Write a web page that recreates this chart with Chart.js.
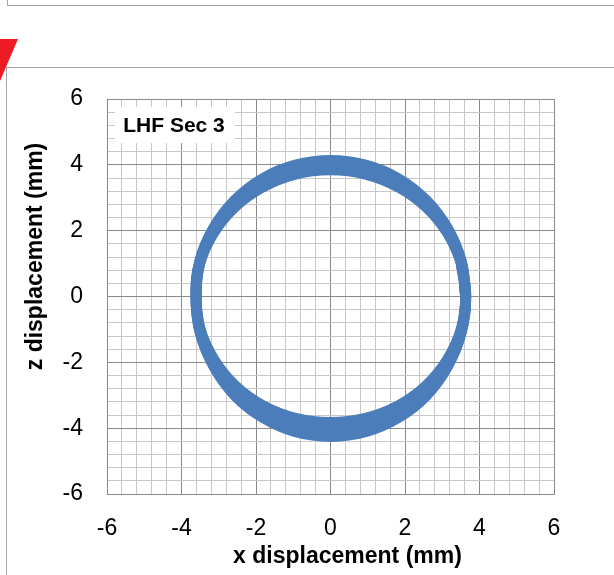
<!DOCTYPE html>
<html><head><meta charset="utf-8">
<script src="https://cdn.jsdelivr.net/npm/chart.js@4"></script>
<style>
html,body{margin:0;padding:0;background:#fff;width:614px;height:575px;overflow:hidden;}
#c{position:absolute;left:0;top:0;}
.ln{position:absolute;background:#a6a6a6;z-index:2;}
#tri{position:absolute;left:0;top:39px;width:0;height:0;border-top:42px solid #ed1c24;border-right:18px solid transparent;z-index:3;}
</style></head>
<body>
<canvas id="c" width="614" height="575"></canvas>
<div class="ln" style="left:7px;top:0;width:1px;height:6px"></div>
<div class="ln" style="left:7px;top:5px;width:607px;height:1px"></div>
<div class="ln" style="left:6px;top:67px;width:608px;height:1px"></div>
<div class="ln" style="left:6px;top:67px;width:1px;height:508px"></div>
<div id="tri"></div>
<script>
// ---- data ----
const seriesLabel = 'LHF Sec 3';
const xTitle = 'x displacement (mm)';
const zTitle = 'z displacement (mm)';
const tickLabels = ['-6','-4','-2','0','2','4','6'];
const axisMin = -6, axisMax = 6, minorStep = 0.4;

// displacement orbit traces (mm): inner, middle and outer passes
const loopX = [3.63, 3.51, 3.14, 2.57, 1.82, 0.94, 0, -0.94, -1.82, -2.57, -3.14, -3.51, -3.61, -3.50, -3.13, -2.56, -1.81, -0.94, 0, 0.94, 1.82, 2.57, 3.14, 3.51, 3.63, 3.51];
const innerZ = [0, 1.00, 1.93, 2.72, 3.33, 3.72, 3.85, 3.72, 3.33, 2.72, 1.93, 1.00, 0, -0.99, -1.92, -2.71, -3.32, -3.70, -3.83, -3.70, -3.32, -2.71, -1.92, -0.99, 0, 1.00];
const middleZ = [0, 1.04, 2.00, 2.82, 3.46, 3.86, 3.99, 3.86, 3.46, 2.82, 2.00, 1.04, 0, -1.05, -2.03, -2.86, -3.50, -3.91, -4.04, -3.91, -3.50, -2.86, -2.03, -1.05, 0, 1.04];
const outerZ = [0, 1.07, 2.07, 2.92, 3.58, 3.99, 4.13, 3.99, 3.58, 2.92, 2.07, 1.07, 0, -1.10, -2.13, -3.01, -3.68, -4.11, -4.25, -4.11, -3.68, -3.01, -2.13, -1.10, 0, 1.07];

const BLUE = '#4a7dba';
const MAJOR = '#8a8a8a', MINOR = '#c8c8c8';
const FONT = "'Liberation Sans', Arial, sans-serif";

function isMajor(v){ return Math.abs(Math.round(v*10)) % 20 === 0; }
function labelFor(v){ const s = String(Math.round(v*10)/10); return tickLabels.includes(s) && isMajor(v) ? s : ''; }

const toPts = (xs, zs) => xs.map((x,i)=>({x:x, y:zs[i]}));

const decor = {
  id:'decor',
  afterDraw(chart){
    const {ctx, chartArea:a} = chart;
    ctx.save();
    ctx.fillStyle = '#fff';
    ctx.fillRect(a.left+8, a.top+8, 120, 36);
    ctx.fillStyle = '#000';
    ctx.font = 'bold 21px ' + FONT;
    ctx.textAlign = 'center'; ctx.textBaseline = 'middle';
    ctx.fillText(seriesLabel, a.left+67, a.top+27);
    ctx.font = 'bold 23px ' + FONT;
    ctx.textBaseline = 'alphabetic';
    ctx.fillText(xTitle, (a.left+a.right)/2 + 17, 563);
    ctx.translate(42, (a.top+a.bottom)/2 - 40);
    ctx.rotate(-Math.PI/2);
    ctx.fillText(zTitle, 0, 0);
    ctx.restore();
  }
};

const gridOpts = {
  color: c => isMajor(c.tick.value) ? MAJOR : MINOR,
  lineWidth: 1,
  drawTicks: false
};

const lineStyle = { showLine: true, borderColor: BLUE, backgroundColor: BLUE, borderWidth: 11, pointRadius: 0, tension: 0.4, borderJoinStyle: 'round', borderCapStyle: 'round' };

new Chart(document.getElementById('c'), {
  type: 'scatter',
  data: {
    datasets: [
      Object.assign({ data: toPts(loopX, innerZ) }, lineStyle),
      Object.assign({ data: toPts(loopX, middleZ) }, lineStyle),
      Object.assign({ data: toPts(loopX, outerZ) }, lineStyle)
    ]
  },
  options: {
    responsive: false, animation: false,
    layout: { padding: { left: 0, right: 60, top: 99, bottom: 0 } },
    plugins: { legend: { display: false }, tooltip: { enabled: false } },
    scales: {
      x: {
        min: axisMin, max: axisMax,
        grid: gridOpts,
        border: { display: true, color: MAJOR },
        ticks: { stepSize: minorStep, autoSkip: false, maxRotation: 0, padding: 21, color: '#000', font: { family: FONT, size: 23 }, callback: v => labelFor(v) },
        afterFit: s => { s.height = 81; }
      },
      y: {
        min: axisMin, max: axisMax,
        grid: gridOpts,
        border: { display: true, color: MAJOR },
        ticks: { stepSize: minorStep, autoSkip: false, padding: 24, color: '#000', font: { family: FONT, size: 23 }, callback: v => labelFor(v) },
        afterFit: s => { s.width = 107; }
      }
    }
  },
  plugins: [decor]
});
</script>
</body></html>
